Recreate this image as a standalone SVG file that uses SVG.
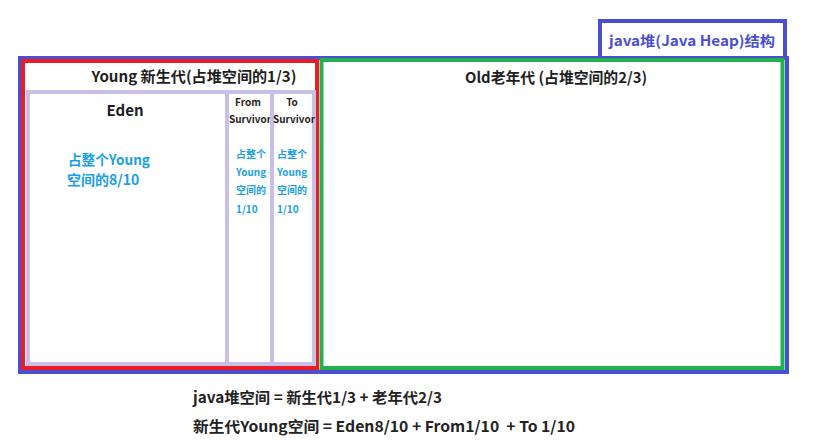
<svg xmlns="http://www.w3.org/2000/svg" width="817" height="446" viewBox="0 0 817 446">
<style>
.box{fill:none;stroke-width:4}
.blue{stroke:#4a4fd2}
.red{stroke:#ec1c24}
.green{stroke:#22b14c}
.lav{stroke:#c8c0e8}
text{font-family:"Microsoft YaHei","Noto Sans CJK SC","Noto Sans",sans-serif;font-weight:bold}
.h{font-size:15px;fill:#1e1e1e;text-anchor:middle}
.s{font-size:10px;fill:#1e1e1e;text-anchor:middle}
.b{font-size:14px;fill:#1a9fe6}
.bs{font-size:10px;fill:#1a9fe6}
.f{font-size:15px;fill:#222}
.t{font-size:14px;fill:#4a4fd2;text-anchor:middle}
</style>
<rect width="817" height="446" fill="#fff"/>
<g id="heap">
<rect class="box blue" x="20" y="58" width="767" height="314"/>
</g>
<g id="heap-title">
<rect class="box blue" x="600" y="21" width="185" height="37"/>
<text class="t" x="692" y="46" textLength="166" lengthAdjust="spacingAndGlyphs">java堆(Java Heap)结构</text>
</g>
<g id="young">
<rect class="box red" x="23" y="61" width="294" height="307"/>
<text class="h" x="194" y="82" textLength="205" lengthAdjust="spacingAndGlyphs">Young 新生代(占堆空间的1/3)</text>
</g>
<g id="old">
<rect class="box green" x="321.5" y="60" width="461" height="308"/>
<text class="h" x="556" y="83" textLength="182" lengthAdjust="spacingAndGlyphs">Old老年代 (占堆空间的2/3)</text>
</g>
<g id="eden">
<rect class="box lav" x="28" y="92" width="199" height="272"/>
<text class="h" x="125" y="116">Eden</text>
<text class="b" x="68" y="165" textLength="82" lengthAdjust="spacingAndGlyphs">占整个Young</text>
<text class="b" x="67" y="185">空间的8/10</text>
</g>
<g id="from">
<rect class="box lav" x="227" y="92" width="45" height="272"/>
<text class="s" x="248" y="106">From</text>
<text class="s" x="250" y="123" textLength="42" lengthAdjust="spacingAndGlyphs">Survivor</text>
<text class="bs" x="236" y="158">占整个</text>
<text class="bs" x="236" y="176">Young</text>
<text class="bs" x="236" y="194">空间的</text>
<text class="bs" x="236" y="213">1/10</text>
</g>
<g id="to">
<rect class="box lav" x="272" y="92" width="42" height="272"/>
<text class="s" x="292" y="106">To</text>
<text class="s" x="294" y="123" textLength="42" lengthAdjust="spacingAndGlyphs">Survivor</text>
<text class="bs" x="277" y="158">占整个</text>
<text class="bs" x="277" y="176">Young</text>
<text class="bs" x="277" y="194">空间的</text>
<text class="bs" x="277" y="213">1/10</text>
</g>
<g id="connectors"></g>
<g id="formulas">
<text class="f" x="193" y="403" textLength="249" lengthAdjust="spacingAndGlyphs">java堆空间 = 新生代1/3 + 老年代2/3</text>
<text class="f" x="193" y="432" textLength="382" lengthAdjust="spacingAndGlyphs" xml:space="preserve">新生代Young空间 = Eden8/10 + From1/10  + To 1/10</text>
</g>
</svg>
